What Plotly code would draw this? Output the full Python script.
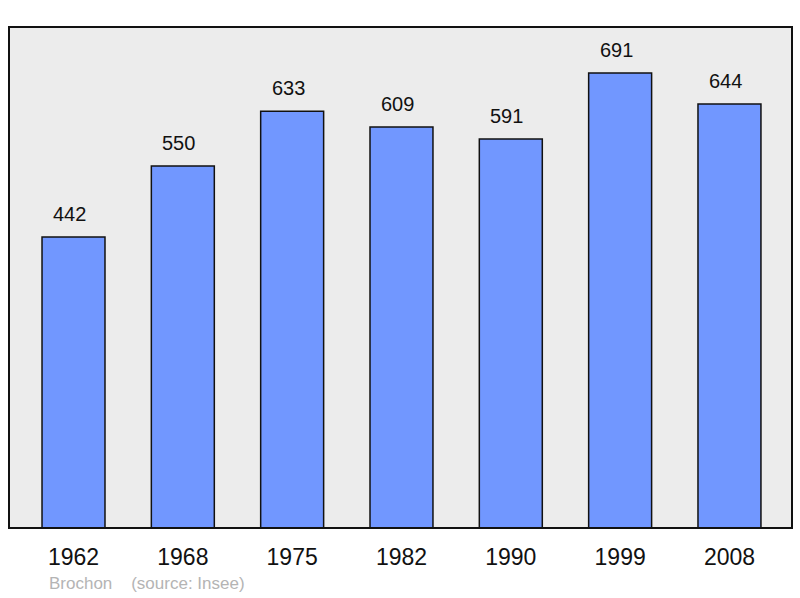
import plotly.graph_objects as go

years = ["1962", "1968", "1975", "1982", "1990", "1999", "2008"]
population = [442, 550, 633, 609, 591, 691, 644]
commune = "Brochon"
source_note = "(source: Insee)"

fig = go.Figure()
fig.add_trace(go.Bar(
    x=years, y=population, width=0.576,
    marker=dict(color="#7197ff", line=dict(color="#111111", width=1.5)),
    hoverinfo="x+y",
))

# value labels above each bar (x by index, so "1962" is not read as a number)
for i, val in enumerate(population):
    fig.add_annotation(x=i, y=val, text=str(val), showarrow=False,
                       yanchor="bottom", yshift=10, xshift=-4,
                       font=dict(family="Liberation Sans, Arial", size=20, color="#111111"))

fig.add_annotation(xref="paper", yref="paper", x=0.049, y=-0.11,
                   xanchor="left", yanchor="middle", showarrow=False,
                   text=commune + "&nbsp;&nbsp;&nbsp;&nbsp;" + source_note,
                   font=dict(family="Liberation Sans, Arial", size=17, color="#b4b4b4"))

# frame around the plot area
fig.add_shape(type="rect", xref="paper", yref="paper", x0=0, y0=0, x1=1, y1=1,
              line=dict(color="#111111", width=2), layer="above")

fig.update_layout(
    width=800, height=598,
    margin=dict(l=9, r=8, t=27, b=70),
    paper_bgcolor="white", plot_bgcolor="#ececec",
    showlegend=False,
    xaxis=dict(type="category", range=[-0.59, 6.572], showgrid=False, zeroline=False,
               ticks="outside", ticklen=8, tickcolor="rgba(0,0,0,0)",
               tickfont=dict(family="Liberation Sans, Arial", size=23, color="#111111")),
    yaxis=dict(range=[0, 761], showgrid=False, zeroline=False, showticklabels=False),
)

fig.write_html("out.html", config={"displayModeBar": False},
               post_script="document.body.style.margin='0';")
